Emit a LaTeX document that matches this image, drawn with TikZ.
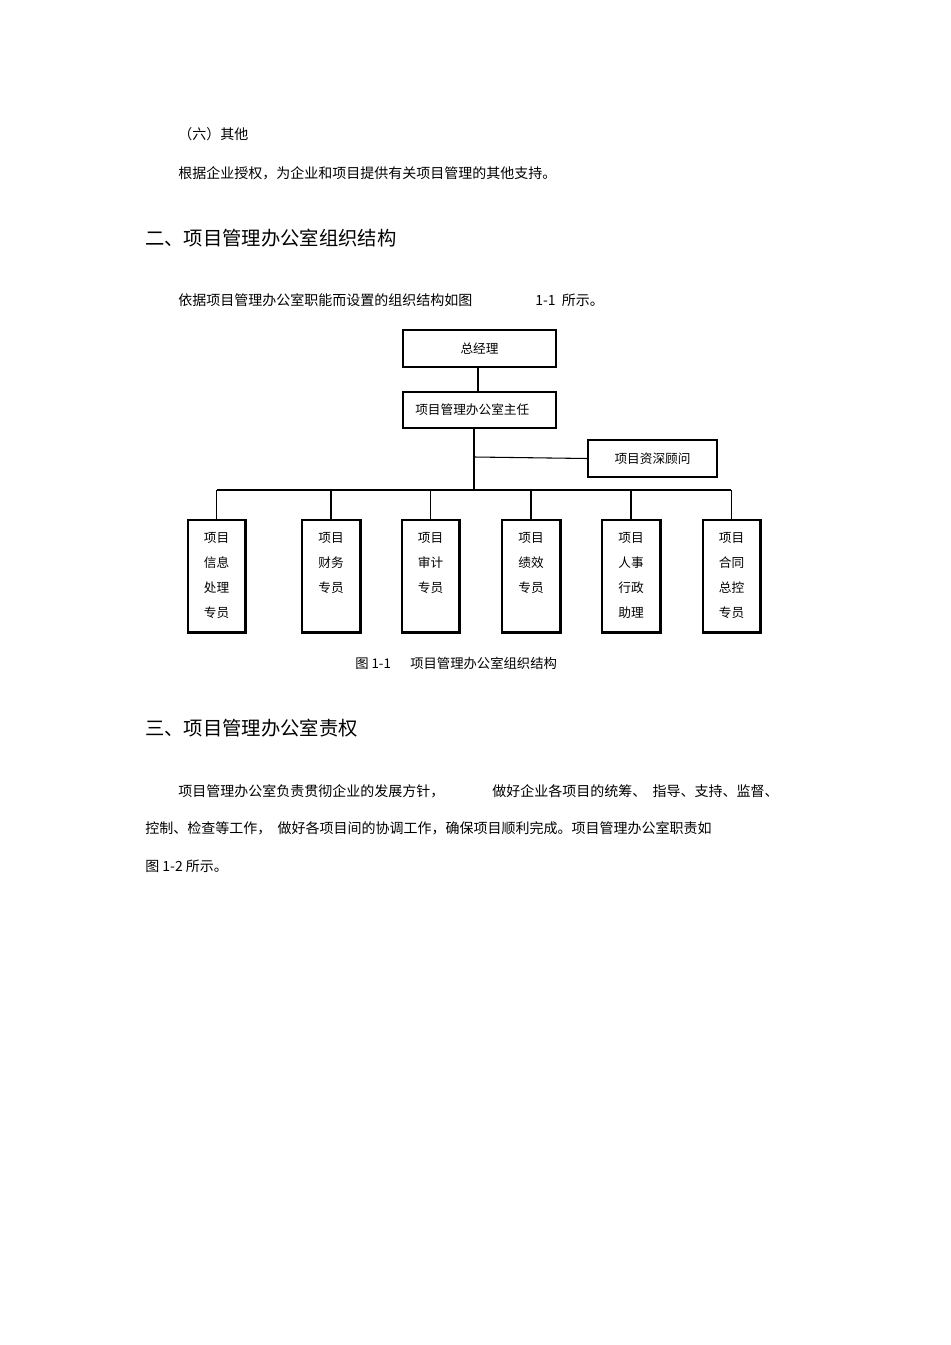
\documentclass[tikz,border=0pt]{standalone}
\usepackage{fontspec}
\setmainfont{Noto Sans CJK SC}
\begin{document}
\begin{tikzpicture}[x=0.75pt,y=-0.75pt,
  txt/.style={anchor=west,inner sep=0pt,font=\fontsize{10.5}{12}\selectfont},
  head/.style={anchor=west,inner sep=0pt,font=\fontsize{14.5}{16}\selectfont},
  box/.style={draw,line width=0.8pt,inner sep=0pt},
  small/.style={inner sep=0pt,font=\fontsize{9.5}{11}\selectfont},
  ln/.style={line width=0.8pt}]
\useasboundingbox (0,0) rectangle (950,1345);
\node[txt] (t1) at (178,134) {（六）其他};
\node[txt] (t2) at (178,173) {根据企业授权，为企业和项目提供有关项目管理的其他支持。};
\node[head] (h2) at (145,238) {二、项目管理办公室组织结构};
\node[txt] (t3) at (178,300) {依据项目管理办公室职能而设置的组织结构如图};
\node[txt] (t3b) at (535,300) {1-1\ \ 所示。};
% chart
\node[box,minimum width=153pt*0.75,minimum height=37pt*0.75] (gm) at (479.5,348.5) {};
\node[small] at (gm) {总经理};
\node[box,minimum width=153pt*0.75,minimum height=36pt*0.75] (dir) at (479.5,410) {};
\node[small,anchor=west] at (415,410) {项目管理办公室主任};
\node[box,minimum width=129pt*0.75,minimum height=37pt*0.75] (adv) at (652.5,458.5) {};
\node[small] at (adv) {项目资深顾问};
\draw[ln] (478,367) -- (478,392);
\coordinate (bus) at (474,490);
\draw[ln] (474,428) -- (bus);
\draw[ln] (474,457) -- (adv.west);
\draw[ln] (217,490) -- (731,490);
\foreach \n/\cx/\w/\a/\b/\c/\d in {
  b1/216.5/57/项目/信息/处理/专员,
  b2/331/58/项目/财务/专员/,
  b3/430.5/57/项目/审计/专员/,
  b4/531/58/项目/绩效/专员/,
  b5/631/58/项目/人事/行政/助理,
  b6/731.5/57/项目/合同/总控/专员}{
  \node[box,minimum width=\w*0.75pt,minimum height=112*0.75pt] (\n) at (\cx,576) {};
  \draw[line width=1.6pt] (\n.north east) -- (\n.south east) -- (\n.south west);
  \draw[ln] (\n.north) -- (\n.north |- 0,490);
  \node[small] at (\cx,538) {\a};
  \node[small] at (\cx,563) {\b};
  \node[small] at (\cx,588) {\c};
  \node[small] at (\cx,613) {\d};
}
\node[txt,font=\fontsize{10}{12}\selectfont] (cap) at (355,663) {图 1-1\quad\ \ 项目管理办公室组织结构};
\node[head] (h3) at (145,728) {三、项目管理办公室责权};
\node[txt] (p1) at (178,791) {项目管理办公室负责贯彻企业的发展方针，};
\node[txt] (p1b) at (492,791) {做好企业各项目的统筹、\ \ 指导、支持、监督、};
\node[txt] (p2) at (145,828) {控制、检查等工作，\ \ 做好各项目间的协调工作，确保项目顺利完成。项目管理办公室职责如};
\node[txt] (p3) at (145,866) {图 1-2\ 所示。};
\end{tikzpicture}
\end{document}
